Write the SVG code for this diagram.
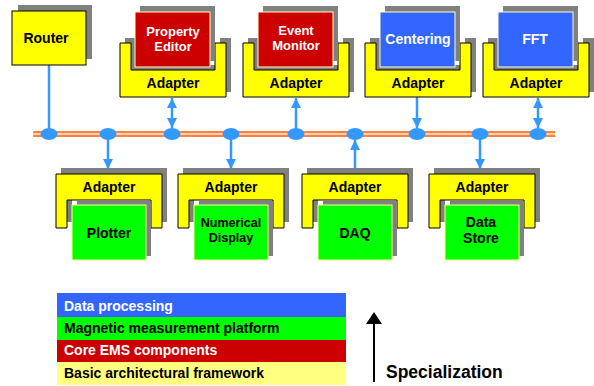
<svg xmlns="http://www.w3.org/2000/svg" width="594" height="386" viewBox="0 0 594 386">
<style>
.sh{fill:#808080}
.yel{fill:#FFFF00;stroke:#000;stroke-width:1}
.red{fill:#CC0000;stroke:#FFFFC0;stroke-width:1}
.blu{fill:#3366FF;stroke:#FFFFC0;stroke-width:1}
.grn{fill:#00FF00;stroke:#FFFF80;stroke-width:1}
text{font-family:"Liberation Sans",Arial,sans-serif;font-weight:bold;font-size:14px;text-anchor:middle}
.w{fill:#fff}
.k{fill:#000}
.s13{font-size:13px}
.s125{font-size:12.5px}
.lg{text-anchor:start}
.con{stroke:#3399FF;stroke-width:2.5;fill:none}
.nd{fill:#3399FF}
</style>
<defs>
<marker id="ah" viewBox="0 0 10 10" refX="10" refY="5" markerWidth="10" markerHeight="11" markerUnits="userSpaceOnUse" orient="auto-start-reverse">
<path d="M0,0 L10,5 L0,10 Z" fill="#3399FF"/>
</marker>
<path id="uTop" d="M0,43 H11 V70 H95 V43 H106 V97 H0 Z"/>
<path id="uBot" d="M0,174 H106 V228 H95 V200 H11 V228 H0 Z"/>
</defs>

<g id="bus">
<rect x="33" y="131" width="522" height="6" fill="#FFD0B0"/>
<line x1="33" y1="132" x2="555" y2="132" stroke="#FF8040" stroke-width="2"/>
<line x1="33" y1="136" x2="555" y2="136" stroke="#FF8040" stroke-width="2"/>
</g>

<g id="connectors">
<line class="con" x1="49" y1="65" x2="49" y2="134"/>
<line class="con" x1="172" y1="98" x2="172" y2="128" marker-start="url(#ah)" marker-end="url(#ah)"/>
<line class="con" x1="296" y1="134" x2="296" y2="98" marker-end="url(#ah)"/>
<line class="con" x1="417" y1="97" x2="417" y2="128" marker-end="url(#ah)"/>
<line class="con" x1="538" y1="98" x2="538" y2="128" marker-start="url(#ah)" marker-end="url(#ah)"/>
<line class="con" x1="108" y1="134" x2="108" y2="169" marker-end="url(#ah)"/>
<line class="con" x1="231" y1="134" x2="231" y2="169" marker-end="url(#ah)"/>
<line class="con" x1="355" y1="168" x2="355" y2="140" marker-end="url(#ah)"/>
<line class="con" x1="480" y1="134" x2="480" y2="169" marker-end="url(#ah)"/>
<ellipse class="nd" cx="49" cy="134" rx="8.5" ry="6"/>
<ellipse class="nd" cx="108" cy="134" rx="8.5" ry="6"/>
<ellipse class="nd" cx="172" cy="134" rx="8.5" ry="6"/>
<ellipse class="nd" cx="231" cy="134" rx="8.5" ry="6"/>
<ellipse class="nd" cx="296" cy="134" rx="8.5" ry="6"/>
<ellipse class="nd" cx="355" cy="134" rx="8.5" ry="6"/>
<ellipse class="nd" cx="417" cy="134" rx="8.5" ry="6"/>
<ellipse class="nd" cx="480" cy="134" rx="8.5" ry="6"/>
<ellipse class="nd" cx="538" cy="134" rx="8.5" ry="6"/>
</g>

<g id="router">
<rect class="sh" x="18" y="5" width="74" height="54"/>
<rect class="yel" x="12" y="11" width="74" height="54"/>
<text class="k" x="46" y="43">Router</text>
</g>

<g id="property-editor" transform="translate(120,0)">
<use href="#uTop" class="sh" transform="translate(5,-5)"/>
<use href="#uTop" class="yel"/>
<text class="k" x="53" y="88">Adapter</text>
<rect class="sh" x="20" y="6" width="75" height="55"/>
<rect class="red" x="15" y="12" width="75" height="55"/>
<text class="w s13" x="53" y="36">Property</text>
<text class="w s13" x="53" y="51">Editor</text>
</g>

<g id="event-monitor" transform="translate(243,0)">
<use href="#uTop" class="sh" transform="translate(5,-5)"/>
<use href="#uTop" class="yel"/>
<text class="k" x="53" y="88">Adapter</text>
<rect class="sh" x="20" y="6" width="75" height="55"/>
<rect class="red" x="15" y="12" width="75" height="55"/>
<text class="w s13" x="53" y="35">Event</text>
<text class="w s13" x="53" y="50">Monitor</text>
</g>

<g id="centering" transform="translate(365,0)">
<use href="#uTop" class="sh" transform="translate(5,-5)"/>
<use href="#uTop" class="yel"/>
<text class="k" x="53" y="88">Adapter</text>
<rect class="sh" x="20" y="6" width="75" height="55"/>
<rect class="blu" x="15" y="12" width="75" height="55"/>
<text class="w" x="53" y="44">Centering</text>
</g>

<g id="fft" transform="translate(483,0)">
<use href="#uTop" class="sh" transform="translate(5,-5)"/>
<use href="#uTop" class="yel"/>
<text class="k" x="53" y="88">Adapter</text>
<rect class="sh" x="20" y="6" width="75" height="55"/>
<rect class="blu" x="15" y="12" width="75" height="55"/>
<text class="w" x="52" y="44">FFT</text>
</g>

<g id="plotter" transform="translate(56,0)">
<use href="#uBot" class="sh" transform="translate(5,-6)"/>
<use href="#uBot" class="yel"/>
<text class="k" x="53" y="192">Adapter</text>
<rect class="sh" x="21" y="201" width="74" height="55"/>
<rect class="grn" x="16" y="205" width="74" height="55"/>
<text class="k" x="53" y="238">Plotter</text>
</g>

<g id="numerical-display" transform="translate(178,0)">
<use href="#uBot" class="sh" transform="translate(5,-6)"/>
<use href="#uBot" class="yel"/>
<text class="k" x="53" y="192">Adapter</text>
<rect class="sh" x="21" y="201" width="74" height="55"/>
<rect class="grn" x="16" y="205" width="74" height="55"/>
<text class="k s125" x="53" y="227">Numerical</text>
<text class="k s125" x="53" y="242">Display</text>
</g>

<g id="daq" transform="translate(302,0)">
<use href="#uBot" class="sh" transform="translate(5,-6)"/>
<use href="#uBot" class="yel"/>
<text class="k" x="53" y="192">Adapter</text>
<rect class="sh" x="21" y="201" width="74" height="55"/>
<rect class="grn" x="16" y="205" width="74" height="55"/>
<text class="k" x="53" y="238">DAQ</text>
</g>

<g id="data-store" transform="translate(429,0)">
<use href="#uBot" class="sh" transform="translate(5,-6)"/>
<use href="#uBot" class="yel"/>
<text class="k" x="53" y="192">Adapter</text>
<rect class="sh" x="21" y="201" width="74" height="55"/>
<rect class="grn" x="16" y="205" width="74" height="55"/>
<text class="k" x="52" y="227">Data</text>
<text class="k" x="52" y="243">Store</text>
</g>

<g id="legend">
<rect x="57" y="293" width="289" height="24" fill="#3366FF"/>
<rect x="57" y="317" width="289" height="23" fill="#00FF00"/>
<rect x="57" y="340" width="289" height="22" fill="#CC0000"/>
<rect x="57" y="362" width="289" height="23" fill="#FFFF80"/>
<text class="w lg" x="64" y="311">Data processing</text>
<text class="k lg" x="64" y="333">Magnetic measurement platform</text>
<text class="w lg" x="64" y="355">Core EMS components</text>
<text class="k lg" x="64" y="378">Basic architectural framework</text>
</g>

<g id="specialization">
<line x1="374" y1="382" x2="374" y2="322" stroke="#000" stroke-width="2"/>
<path d="M366,324 L374,312 L382,324 Z" fill="#000"/>
<text class="k lg" x="386" y="378" style="font-size:17.5px">Specialization</text>
</g>
</svg>
